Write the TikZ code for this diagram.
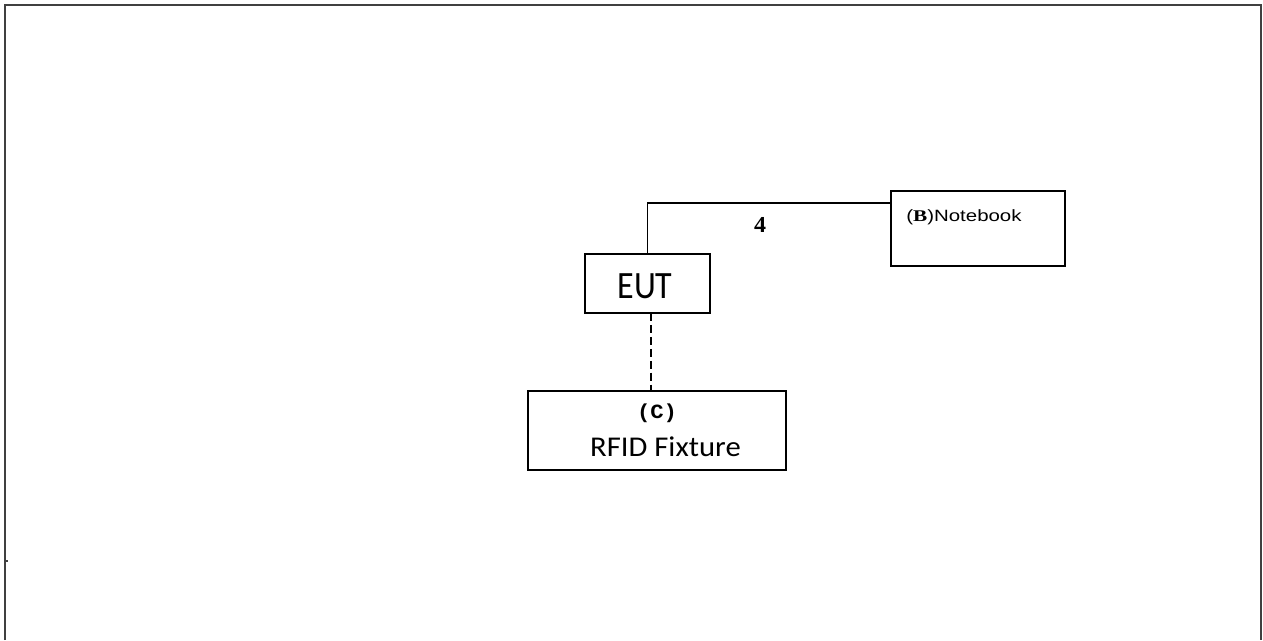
\documentclass[tikz,border=0pt]{standalone}
\usepackage{fontspec}
\setmainfont[FakeStretch=1.07]{Carlito}
\newfontfamily\eutfont[FakeStretch=0.88]{Carlito}
\newfontfamily\arialfont[FakeStretch=1.25]{Liberation Sans}
\newfontfamily\timesfont[FakeStretch=1.3]{Liberation Serif}
\newfontfamily\numfont[FakeStretch=1.05]{Liberation Serif}
\newfontfamily\monofont[FakeStretch=1.1]{Liberation Mono}
\usepackage{xcolor}
\usepackage{tikz}
\usetikzlibrary{calc,positioning}

\tikzset{
  box/.style={draw, line width=0.8pt, inner sep=0pt, outer sep=0pt},
  cable/.style={line width=0.8pt}
}

\begin{document}
\begin{tikzpicture}[x=0.02cm, y=-0.02cm]
\useasboundingbox (0,0) rectangle (1263,640);
% outer frame, open at the bottom
\draw[line width=1.1pt, black!75] (5,640) -- (5,5) -- (1261,5) -- (1261,640);
\draw[line width=0.8pt, black!75] (5,561) -- (8,561);
% equipment boxes
\node[box, minimum width=2.5cm, minimum height=1.18cm] (eut) at (647.5,283.5) {};
\node[box, minimum width=3.48cm, minimum height=1.5cm] (nb) at (978,228.5) {};
\node[box, minimum width=5.16cm, minimum height=1.58cm] (rfid) at (657,430.5) {};
% box texts
\node[inner sep=0pt, anchor=base] (eutlabel) at (645,298.3) {\fontsize{22}{24}\selectfont\eutfont EUT};
\node[anchor=base west, inner sep=0pt] (nblabel) at (906,221.7)
  {\fontsize{9.3}{11}\selectfont\arialfont({\timesfont\bfseries B})Notebook};
\node[inner sep=0pt] (rfidtag) at (657,413) {\fontsize{11.5}{13}\selectfont\monofont\bfseries (C)};
\node[inner sep=0pt, anchor=base] (rfidname) at (665.5,456.7) {\fontsize{16.3}{18}\selectfont RFID Fixture};
% cable EUT to notebook
\coordinate (bend) at (647.5,203);
\draw[cable] (eut.north) -- (bend) -- (bend -| nb.west);
\node[inner sep=0pt, anchor=base] (cablenum) at (760,232) {\fontsize{13}{14}\selectfont\numfont\bfseries 4};
% wireless link EUT to fixture
\draw[cable, dash pattern=on 4.5pt off 2.3pt]
  ($(eut.south)+(3.5,0)$) -- ($(eut.south |- rfid.north)+(3.5,0)$);
\end{tikzpicture}
\end{document}
